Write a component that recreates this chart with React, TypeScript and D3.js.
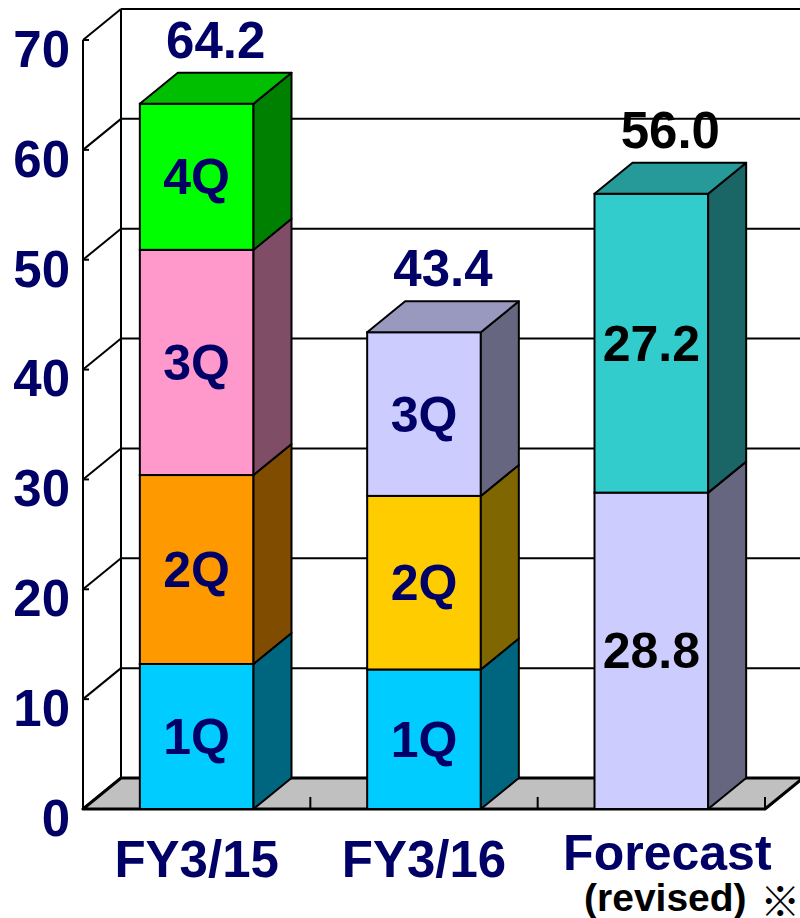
import * as d3 from 'd3';
import { useMemo } from 'react';

// data
const categories = ['FY3/15', 'FY3/16', 'Forecast'];
const fy15Values = [13.2, 17.2, 20.5, 13.3];
const fy15Labels = ['1Q', '2Q', '3Q', '4Q'];
const fy15Colors = ['#00CCFF', '#FF9900', '#FF99CC', '#00FF00'];
const fy16Values = [12.7, 15.8, 14.9];
const fy16Labels = ['1Q', '2Q', '3Q'];
const fy16Colors = ['#00CCFF', '#FFCC00', '#CCCCFF'];
const forecastValues = [28.8, 27.2];
const forecastLabels = ['28.8', '27.2'];
const forecastColors = ['#CCCCFF', '#33CCCC'];
const yTicks = [0, 10, 20, 30, 40, 50, 60, 70];

const NAVY = '#000066';
const FONT = '"Liberation Sans", Arial, sans-serif';

const series = [
  { values: fy15Values, labels: fy15Labels, colors: fy15Colors, labelColor: NAVY, totalColor: NAVY },
  { values: fy16Values, labels: fy16Labels, colors: fy16Colors, labelColor: NAVY, totalColor: NAVY },
  { values: forecastValues, labels: forecastLabels, colors: forecastColors, labelColor: '#000', totalColor: '#000' },
];

const W = 800;
const H = 918;
const DX = 38; // depth offset
const DY = -31;

function shade(c: string, k: number) {
  const rgb = d3.rgb(c);
  return d3.rgb(rgb.r * k, rgb.g * k, rgb.b * k).formatHex();
}

export default function App() {
  const y = useMemo(() => d3.scaleLinear().domain([0, 70]).range([809, 40]), []);
  const x = useMemo(
    () => d3.scaleBand<string>().domain(categories).range([83, 765]).paddingInner(0.5).paddingOuter(0.25),
    []
  );
  const x0 = 83;
  const x1 = 765;
  const step = x.step();
  const bw = x.bandwidth();
  const fmt = d3.format('.1f');

  const floor = `M${x0},${y(0)} L${x1},${y(0)} L${x1 + DX},${y(0) + DY} L${x0 + DX},${y(0) + DY} Z`;

  return (
    <svg
      width={W}
      height={H}
      style={{ position: 'absolute', left: 0, top: 0, background: '#fff' }}
      fontFamily={FONT}
      fontWeight="bold"
    >
      {/* back wall grid */}
      {yTicks.map((t) => (
        <line key={'g' + t} x1={x0 + DX} x2={x1 + DX + 40} y1={y(t) + DY} y2={y(t) + DY} stroke="#000" strokeWidth={2} />
      ))}
      <line x1={x0 + DX} x2={x0 + DX} y1={y(0) + DY} y2={y(70) + DY} stroke="#000" strokeWidth={2} />
      {/* side wall diagonals */}
      {yTicks.map((t) => (
        <line key={'d' + t} x1={x0} x2={x0 + DX} y1={y(t)} y2={y(t) + DY} stroke="#000" strokeWidth={2} />
      ))}
      {/* floor */}
      <path d={floor} fill="#C0C0C0" stroke="#000" strokeWidth={3} strokeLinejoin="round" />
      {categories.map((c) => (
        <line key={'ft' + c} x1={(x(c) ?? 0) - (step - bw) / 2 + step} x2={(x(c) ?? 0) - (step - bw) / 2 + step} y1={y(0)} y2={y(0) - 12} stroke="#000" strokeWidth={2} />
      ))}
      {/* front axis */}
      <line x1={x0} x2={x0} y1={y(0)} y2={y(70)} stroke="#000" strokeWidth={2} />
      {yTicks.map((t) => (
        <g key={'t' + t}>
          <line x1={x0} x2={x0 + 6} y1={y(t)} y2={y(t)} stroke="#000" strokeWidth={2} />
          <text x={70} y={y(t) + 9} dy="0.35em" textAnchor="end" fontSize={51} fill={NAVY}>
            {t}
          </text>
        </g>
      ))}
      {/* bars */}
      {categories.map((c, i) => {
        const s = series[i];
        const bx = x(c) ?? 0;
        let acc = 0;
        const segs = s.values.map((v, j) => {
          const y0 = acc;
          acc += v;
          return { y0, y1: acc, color: s.colors[j], label: s.labels[j] };
        });
        const total = acc;
        const last = segs.length - 1;
        return (
          <g key={c}>
            {segs.map((sg, j) => {
              const top = y(sg.y1);
              const bot = y(sg.y0);
              return (
                <g key={j}>
                  <rect x={bx} y={top} width={bw} height={bot - top} fill={sg.color} stroke="#000" strokeWidth={2} />
                  <path
                    d={`M${bx + bw},${bot} L${bx + bw + DX},${bot + DY} L${bx + bw + DX},${top + DY} L${bx + bw},${top} Z`}
                    fill={shade(sg.color, 0.5)}
                    stroke="#000"
                    strokeWidth={2}
                    strokeLinejoin="round"
                  />
                  {j === last && (
                    <path
                      d={`M${bx},${top} L${bx + DX},${top + DY} L${bx + bw + DX},${top + DY} L${bx + bw},${top} Z`}
                      fill={shade(sg.color, 0.75)}
                      stroke="#000"
                      strokeWidth={2}
                      strokeLinejoin="round"
                    />
                  )}
                  <text
                    x={bx + bw / 2}
                    y={(top + bot) / 2}
                    dy="0.35em"
                    textAnchor="middle"
                    fontSize={50}
                    fill={s.labelColor}
                  >
                    {sg.label}
                  </text>
                </g>
              );
            })}
            <text x={bx + bw / 2 + DX / 2} y={y(total) + DY - 15} textAnchor="middle" fontSize={51} fill={s.totalColor}>
              {fmt(total)}
            </text>
          </g>
        );
      })}
      {/* category labels */}
      {categories.map((c) => {
        const cx = (x(c) ?? 0) + bw / 2;
        if (c === 'Forecast') {
          return (
            <g key={'cl' + c}>
              <text x={cx + 16} y={870} textAnchor="middle" fontSize={50} fill={NAVY}>
                {c}
              </text>
              <text x={cx + 14} y={911} textAnchor="middle" fontSize={39} fill="#000">
                (revised)
              </text>
              <text x={cx + 129} y={916} textAnchor="middle" fontSize={40} fill="#000" fontFamily='"Noto Sans CJK JP", sans-serif'>
                ※
              </text>
            </g>
          );
        }
        return (
          <text key={'cl' + c} x={cx} y={877} textAnchor="middle" fontSize={51} fill={NAVY}>
            {c}
          </text>
        );
      })}
    </svg>
  );
}
